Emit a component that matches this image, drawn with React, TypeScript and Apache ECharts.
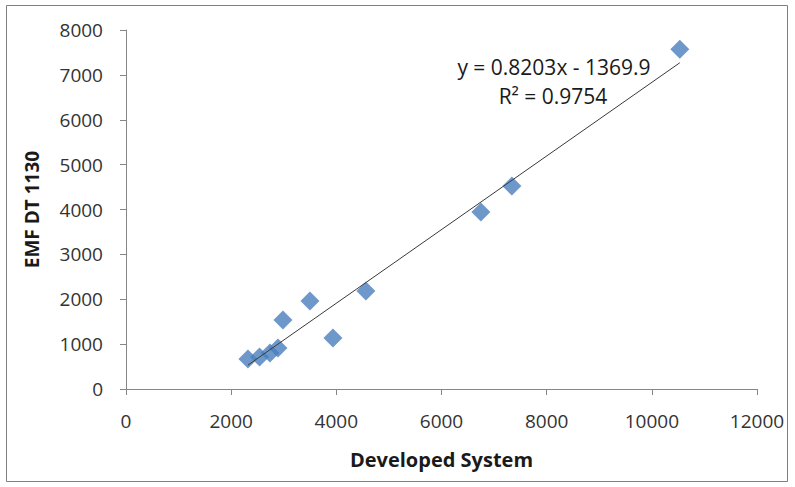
import React, { useEffect, useRef } from "react";
import * as echarts from "echarts";

const developedSystem = [2319, 2540, 2737, 2890, 2985, 3498, 3935, 4562, 6749, 7338, 10532];
const emfDT1130 = [668, 713, 802, 913, 1537, 1960, 1136, 2182, 3942, 4521, 7572];
const slope = 0.8203;
const intercept = -1369.9;
const rSquared = 0.9754;
const xTicks = [0, 2000, 4000, 6000, 8000, 10000, 12000];
const yTicks = [0, 1000, 2000, 3000, 4000, 5000, 6000, 7000, 8000];

const FONT = "'Open Sans', 'Liberation Sans', sans-serif";

export default function App() {
  const ref = useRef<HTMLDivElement>(null);
  useEffect(() => {
    if (!ref.current) return;
    const chart = echarts.init(ref.current, null, { renderer: "svg" });
    const xMin = Math.min(...developedSystem);
    const xMax = Math.max(...developedSystem);
    const trend = [
      [xMin, slope * xMin + intercept],
      [xMax, slope * xMax + intercept],
    ];
    const axisLine = { show: true, lineStyle: { color: "#868686", width: 1 } };
    const fmt = (v: number) => String(v);
    chart.setOption({
      animation: false,
      backgroundColor: "#ffffff",
      grid: { left: 126, right: 38, top: 30, bottom: 98 },
      xAxis: {
        type: "value",
        min: xTicks[0],
        max: xTicks[xTicks.length - 1],
        interval: 2000,
        name: "Developed System",
        nameLocation: "middle",
        nameGap: 60,
        nameTextStyle: { fontFamily: FONT, fontSize: 20, fontWeight: "bold", color: "#1a1a1a" },
        axisLine,
        axisTick: { show: true, length: 6, lineStyle: { color: "#868686" } },
        axisLabel: { fontFamily: FONT, fontSize: 19, color: "#333333", margin: 22, formatter: fmt },
        splitLine: { show: false },
      },
      yAxis: {
        type: "value",
        min: yTicks[0],
        max: yTicks[yTicks.length - 1],
        interval: 1000,
        name: "EMF DT 1130",
        nameLocation: "middle",
        nameGap: 85,
        nameRotate: 90,
        nameTextStyle: { fontFamily: FONT, fontSize: 19, fontWeight: "bold", color: "#1a1a1a" },
        axisLine,
        axisTick: { show: true, length: 6, lineStyle: { color: "#868686" } },
        axisLabel: { fontFamily: FONT, fontSize: 19, color: "#333333", margin: 23, formatter: fmt },
        splitLine: { show: false },
      },
      series: [
        {
          type: "line",
          data: trend,
          showSymbol: false,
          symbol: "none",
          lineStyle: { color: "#3a3a3a", width: 1 },
          silent: true,
          z: 3,
        },
        {
          type: "scatter",
          data: developedSystem.map((x, i) => [x, emfDT1130[i]]),
          symbol: "diamond",
          symbolSize: 19,
          itemStyle: { color: "#4a7ebb" },
          z: 2,
        },
      ],
      graphic: [
        {
          type: "rect",
          shape: { x: 6.5, y: 5.5, width: 781, height: 476 },
          style: { fill: "none", stroke: "#7f7f7f", lineWidth: 1 },
          silent: true,
          z: 10,
        },
        {
          type: "text",
          x: 554,
          y: 67,
          style: {
            text: `y = ${slope}x - ${Math.abs(intercept)}`,
            fontFamily: FONT,
            fontSize: 21,
            fill: "#1a1a1a",
            align: "center",
            verticalAlign: "middle",
          },
        },
        {
          type: "text",
          x: 553,
          y: 96,
          style: {
            text: `R² = ${rSquared}`,
            fontFamily: FONT,
            fontSize: 21,
            fill: "#1a1a1a",
            align: "center",
            verticalAlign: "middle",
          },
        },
      ],
    });
    return () => chart.dispose();
  }, []);
  return (
    <div
      ref={ref}
      style={{ position: "absolute", left: 0, top: 0, width: 795, height: 487 }}
    />
  );
}
